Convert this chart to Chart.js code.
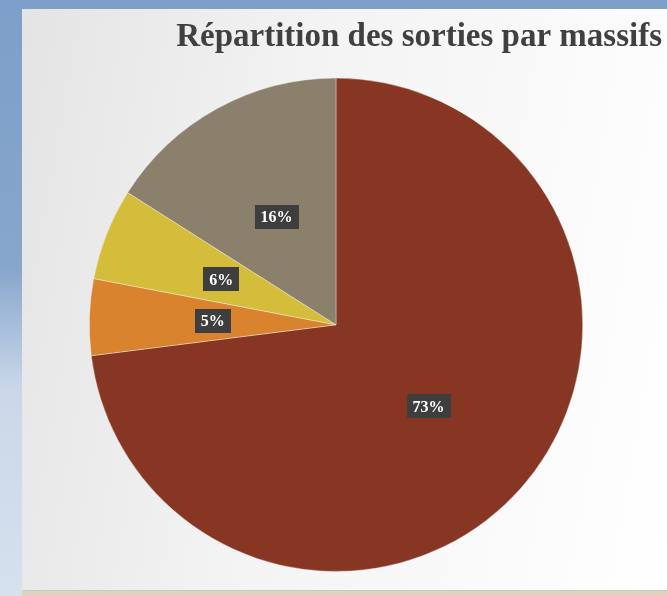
<!DOCTYPE html>
<html>
<head>
<meta charset="utf-8">
<script src="https://cdn.jsdelivr.net/npm/chart.js@4.4.0/dist/chart.umd.min.js"></script>
<style>
    html, body { margin: 0; padding: 0; }
    body {
        width: 667px; height: 596px; overflow: hidden; position: relative;
        background: linear-gradient(180deg, #7d9fc9 0%, #87a6cc 45%, #c9d7e8 65%, #d6e1ee 100%);
    }
    #panel {
        position: absolute; left: 22px; top: 9px; width: 645px; height: 581px;
        background: linear-gradient(100deg, #e4e4e4 0%, #f3f3f3 40%, #ffffff 100%);
    }
    #floor {
        position: absolute; left: 22px; top: 590px; width: 645px; height: 6px;
        background: #ddd3c0; border-top: 1px solid #c9c9c9;
    }
    #wrap { position: absolute; left: 0; top: 0; width: 667px; height: 596px; }
</style>
</head>
<body>
<div id="panel"></div>
<div id="floor"></div>
<div id="wrap"><canvas id="pieChart"></canvas></div>
<script>
var massifs = ['Massif 1', 'Massif 2', 'Massif 3', 'Massif 4'];
var parts = [73, 5, 6, 16];
var couleurs = ['#873624', '#d9832e', '#d4bd3b', '#8a806c'];
var titre = 'Répartition des sorties par massifs';

// étiquettes % dans des boîtes sombres, au milieu de chaque part
var boxLabels = {
    id: 'boxLabels',
    afterDatasetsDraw: function(chart) {
        var ctx = chart.ctx;
        var meta = chart.getDatasetMeta(0);
        ctx.save();
        ctx.font = 'bold 16px "Liberation Serif", serif';
        ctx.textAlign = 'center';
        ctx.textBaseline = 'middle';
        meta.data.forEach(function(arc, i) {
            var p = arc.getCenterPoint();
            var txt = parts[i] + '%';
            var w = ctx.measureText(txt).width + 12;
            var h = 24;
            ctx.fillStyle = '#3e3e3e';
            ctx.fillRect(Math.round(p.x - w / 2), Math.round(p.y - h / 2), Math.round(w), h);
            ctx.fillStyle = '#ffffff';
            ctx.fillText(txt, p.x, p.y + 1);
        });
        ctx.restore();
    }
};

var ctx = document.getElementById('pieChart').getContext('2d');
var pieChart = new Chart(ctx, {
    type: 'pie',
    data: {
        labels: massifs,
        datasets: [{ data: parts, backgroundColor: couleurs, borderColor: 'rgba(255,255,255,0.35)', borderWidth: 1 }]
    },
    options: {
        responsive: true,
        maintainAspectRatio: false,
        animation: false,
        layout: { padding: { left: 10, right: 5, top: 0, bottom: 24 } },
        plugins: {
            legend: { display: false },
            tooltip: { enabled: false },
            title: {
                display: true,
                text: titre,
                align: 'end',
                color: '#404040',
                font: { family: '"Liberation Serif", serif', size: 33, weight: 'bold' },
                padding: { top: 18, bottom: 20 }
            }
        }
    },
    plugins: [boxLabels]
});
</script>
</body>
</html>
